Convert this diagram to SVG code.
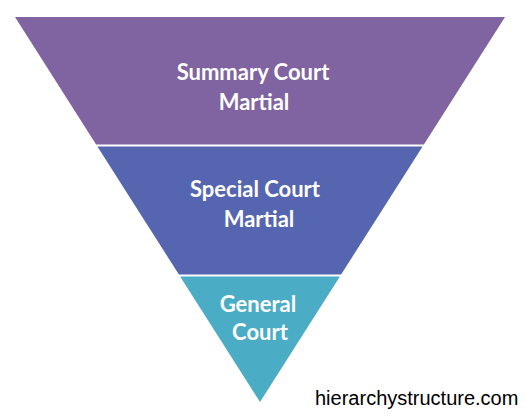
<svg xmlns="http://www.w3.org/2000/svg" width="525" height="416" viewBox="0 0 525 416">
<style>
.lbl{font-family:Lato,"Open Sans","Liberation Sans",sans-serif;font-weight:bold;font-size:22px;fill:#ffffff;text-anchor:middle}
.wm{font-family:"Liberation Sans",Arial,sans-serif;font-size:20px;fill:#000000}
</style>
<rect width="525" height="416" fill="#ffffff"/>
<g id="summary-court-martial">
<polygon points="15,17 505,17 423.9,144.5 96.1,144.5" fill="#8064A2"/>
<text class="lbl" x="253" y="80">Summary Court</text>
<text class="lbl" x="254" y="110">Martial</text>
</g>
<g id="special-court-martial">
<polygon points="97.4,146.5 422.6,146.5 341.1,274.5 178.9,274.5" fill="#5565B0"/>
<text class="lbl" x="255" y="197">Special Court</text>
<text class="lbl" x="259" y="227">Martial</text>
</g>
<g id="general-court">
<polygon points="180.1,276.5 339.9,276.5 260,402" fill="#4BACC6"/>
<text class="lbl" x="258" y="312">General</text>
<text class="lbl" x="260" y="340">Court</text>
</g>
<g id="connectors"></g>
<text class="wm" x="315" y="405">hierarchystructure.com</text>
</svg>
